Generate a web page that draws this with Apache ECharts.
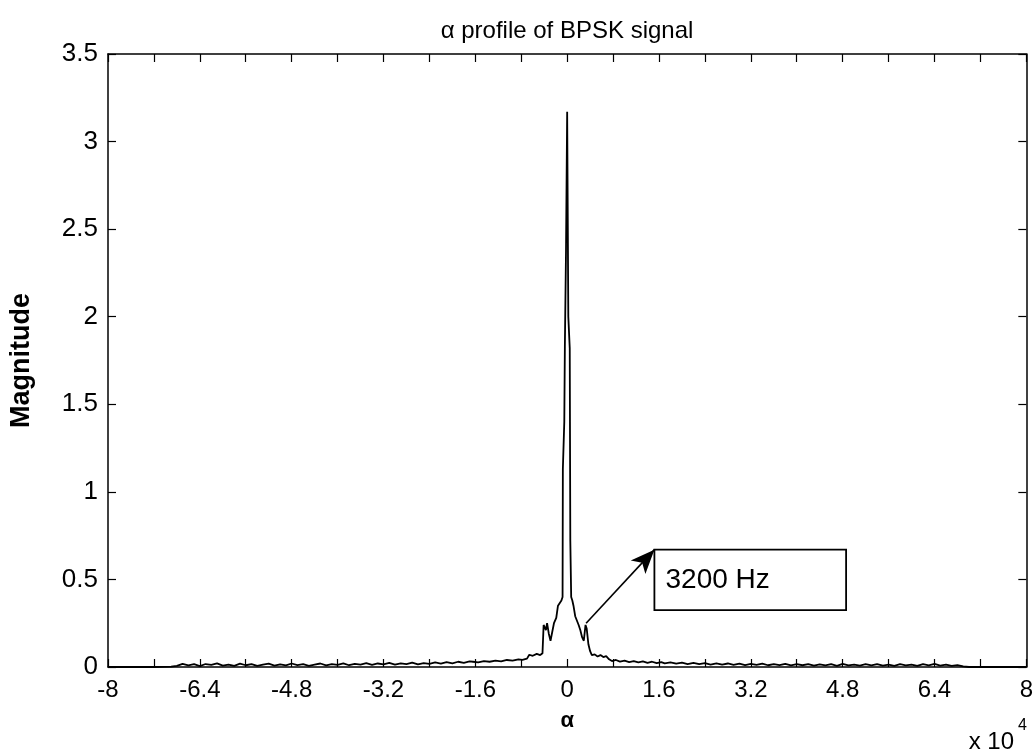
<!DOCTYPE html>
<html>
<head>
<meta charset="utf-8">
<script src="https://cdn.jsdelivr.net/npm/echarts@6/dist/echarts.min.js"></script>
<style>html,body{margin:0;padding:0;background:#fff}#c{width:1036px;height:755px}</style>
</head>
<body>
<div id="c"></div>
<script>
// alpha in units of 1e4 Hz
const alpha = [
 -8.0,-7.6,-7.2,-6.9,
 -6.8,-6.7,-6.6,-6.5,-6.4,-6.3,-6.2,-6.1,-6.0,-5.9,-5.8,-5.7,-5.6,-5.5,-5.4,-5.3,-5.2,-5.1,-5.0,
 -4.9,-4.8,-4.7,-4.6,-4.5,-4.4,-4.3,-4.2,-4.1,-4.0,-3.9,-3.8,-3.7,-3.6,-3.5,-3.4,-3.3,-3.2,-3.1,-3.0,
 -2.9,-2.8,-2.7,-2.6,-2.5,-2.4,-2.3,-2.2,-2.1,-2.0,-1.9,-1.8,-1.7,
 -1.64,-1.55,-1.45,-1.35,-1.25,-1.15,-1.05,-0.95,-0.85,-0.78,-0.70,-0.66,-0.60,-0.53,-0.47,-0.43,
 -0.41,-0.37,-0.35,-0.32,-0.29,-0.26,-0.23,-0.19,-0.16,-0.13,-0.10,-0.08,-0.075,-0.05,-0.04,-0.02,
 0.00,0.02,0.045,0.055,0.07,0.09,0.11,0.14,0.17,0.20,0.23,0.26,0.29,0.32,0.34,0.37,0.40,0.43,0.48,0.53,
 0.58,0.63,0.68,0.73,0.78,0.85,0.92,1.00,1.08,1.16,1.24,1.32,1.40,1.48,1.56,1.64,1.7,
 1.8,1.9,2.0,2.1,2.2,2.3,2.4,2.5,2.6,2.7,2.8,2.9,3.0,3.1,3.2,3.3,3.4,3.5,3.6,3.7,3.8,3.9,
 4.0,4.1,4.2,4.3,4.4,4.5,4.6,4.7,4.8,4.9,5.0,5.1,5.2,5.3,5.4,5.5,5.6,5.7,5.8,5.9,
 6.0,6.1,6.2,6.3,6.4,6.5,6.6,6.7,6.8,6.9,7.0,7.5,8.0
];
const magnitude = [
 0,0,0,0.002,
 0.006,0.018,0.009,0.016,0.005,0.017,0.012,0.021,0.008,0.014,0.006,0.019,0.010,0.017,0.006,0.013,0.019,0.008,0.015,
 0.009,0.020,0.011,0.016,0.007,0.014,0.020,0.009,0.017,0.012,0.021,0.010,0.018,0.013,0.022,0.012,0.020,0.015,0.024,0.013,
 0.021,0.016,0.025,0.015,0.022,0.018,0.026,0.019,0.028,0.021,0.030,0.024,0.032,
 0.030,0.026,0.034,0.030,0.036,0.032,0.040,0.036,0.044,0.041,0.048,0.070,0.064,0.075,0.068,0.078,
 0.24,0.21,0.25,0.19,0.15,0.20,0.25,0.28,0.35,0.34,0.38,0.40,1.13,1.40,1.83,2.38,
 3.17,2.00,1.82,0.72,0.40,0.38,0.35,0.29,0.30,0.24,0.21,0.17,0.15,0.24,0.22,0.13,0.09,0.068,0.072,0.060,
 0.068,0.057,0.062,0.044,0.034,0.040,0.031,0.036,0.028,0.034,0.026,0.032,0.024,0.030,0.022,0.028,0.021,
 0.026,0.019,0.025,0.017,0.023,0.016,0.022,0.014,0.021,0.013,0.020,0.012,0.019,0.011,0.018,0.012,0.019,0.010,0.017,0.011,0.018,0.009,
 0.016,0.010,0.017,0.008,0.015,0.009,0.016,0.007,0.018,0.009,0.014,0.008,0.016,0.009,0.017,0.008,0.013,0.006,0.016,0.009,
 0.014,0.006,0.017,0.009,0.018,0.008,0.014,0.006,0.011,0.003,0,0,0
];
const xTicks = [-8,-6.4,-4.8,-3.2,-1.6,0,1.6,3.2,4.8,6.4,8];
const yTicks = [0,0.5,1,1.5,2,2.5,3,3.5];
const annotation = {text:'3200 Hz', from:[0.33,0.25], box:[[1.52,0.67],[4.86,0.325]]};

const FONT = 'Liberation Sans, Arial, sans-serif';
const points = alpha.map((a,i)=>[a, magnitude[i]]);
const fmt = v => String(+(+v).toFixed(1));

const chart = echarts.init(document.getElementById('c'), null, {renderer:'canvas'});
const axisCommon = {
  type:'value', axisLine:{show:true, onZero:false, lineStyle:{color:'#000', width:1.5}},
  axisTick:{show:true, inside:true, length:8, lineStyle:{color:'#000', width:1.2}},
  splitLine:{show:false}
};
chart.setOption({
  animation:false,
  backgroundColor:'#fff',
  title:{text:'α profile of BPSK signal', left:562, textAlign:'center', top:14,
    textStyle:{fontFamily:FONT, fontSize:24, fontWeight:'normal', color:'#000'}},
  grid:{left:105, right:5, top:54, bottom:88, containLabel:false},
  xAxis:[
    Object.assign({}, axisCommon, {position:'bottom', min:xTicks[0], max:xTicks[xTicks.length-1], interval:1.6,
      minorTick:{show:true, splitNumber:2, length:8, lineStyle:{color:'#000', width:1.2}},
      axisLabel:{show:true, margin:11, fontSize:24, color:'#000', fontFamily:FONT, formatter:fmt, showMinLabel:true, showMaxLabel:true},
      name:'α', nameLocation:'middle', nameGap:43,
      nameTextStyle:{fontFamily:FONT, fontSize:22, fontWeight:'bold', color:'#000'}}),
    Object.assign({}, axisCommon, {position:'top', min:xTicks[0], max:xTicks[xTicks.length-1], interval:1.6,
      minorTick:{show:true, splitNumber:2, length:8, lineStyle:{color:'#000', width:1.2}},
      axisLabel:{show:false}})
  ],
  yAxis:[
    Object.assign({}, axisCommon, {position:'left', min:yTicks[0], max:yTicks[yTicks.length-1], interval:0.5,
      axisLabel:{show:true, margin:10, fontSize:26, color:'#000', fontFamily:FONT, formatter:fmt, showMinLabel:true, showMaxLabel:true},
      name:'Magnitude', nameLocation:'middle', nameGap:73, nameRotate:90,
      nameTextStyle:{fontFamily:FONT, fontSize:27, fontWeight:'bold', color:'#000'}}),
    Object.assign({}, axisCommon, {position:'right', min:yTicks[0], max:yTicks[yTicks.length-1], interval:0.5,
      axisLabel:{show:false}})
  ],
  graphic:[
    {type:'text', right:22, bottom:1, style:{text:'x 10', font:'24px '+FONT, fill:'#000'}},
    {type:'text', right:9, bottom:21, style:{text:'4', font:'16px '+FONT, fill:'#000'}}
  ],
  series:[{
    type:'line', data:points, xAxisIndex:0, yAxisIndex:0, showSymbol:false, symbol:'none',
    lineStyle:{color:'#000', width:1.8}, z:3,
    markArea:{silent:true, itemStyle:{color:'#fff', borderColor:'#000', borderWidth:1.8},
      label:{show:true, position:'insideLeft', distance:12, color:'#000', fontSize:28, fontFamily:FONT},
      data:[[{coord:annotation.box[0], name:annotation.text},{coord:annotation.box[1]}]]},
    markLine:{silent:true, symbol:['none','arrow'], symbolSize:[15,24], label:{show:false},
      lineStyle:{color:'#000', width:1.6, type:'solid'},
      data:[[{coord:annotation.from},{coord:annotation.box[0]}]]}
  }]
});
</script>
</body>
</html>
